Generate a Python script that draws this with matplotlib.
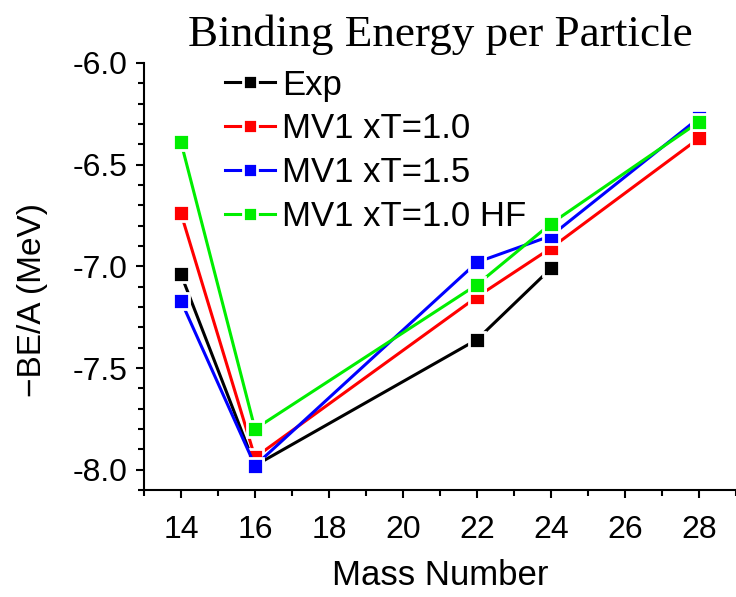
import matplotlib
matplotlib.use('Agg')
import matplotlib.pyplot as plt
from matplotlib.ticker import MultipleLocator, FormatStrFormatter

plt.rcParams['font.family'] = ['Liberation Sans', 'DejaVu Sans']

# Data
mass_exp = [14, 16, 22, 24]
be_exp = [-7.04, -7.98, -7.36, -7.01]

mass_mv1 = [14, 16, 22, 24, 28]
be_xt10 = [-6.74, -7.94, -7.15, -6.91, -6.37]
be_xt15 = [-7.17, -7.98, -6.98, -6.85, -6.27]
be_xt10_hf = [-6.39, -7.80, -7.09, -6.79, -6.29]

labels = ['Exp', 'MV1 xT=1.0', 'MV1 xT=1.5', 'MV1 xT=1.0 HF']
colors = ['black', '#ff0000', '#0000ff', '#00ee00']

fig = plt.figure(figsize=(7.36, 5.97), dpi=100)
ax = fig.add_axes([144 / 736, 1 - 490 / 597, 1 - 144 / 736, (490 - 63) / 597])

series = [(mass_exp, be_exp), (mass_mv1, be_xt10), (mass_mv1, be_xt15), (mass_mv1, be_xt10_hf)]
for (x, y), lab, col in zip(series, labels, colors):
    ax.plot(x, y, color=col, lw=2.2, marker='s', ms=12, mfc=col,
            mec='white', mew=2, label=lab)

ax.set_xlim(13, 29)
ax.set_ylim(-8.1, -6.0)
ax.xaxis.set_major_locator(MultipleLocator(2))
ax.xaxis.set_minor_locator(MultipleLocator(1))
ax.yaxis.set_major_locator(MultipleLocator(0.5))
ax.yaxis.set_minor_locator(MultipleLocator(0.1))
ax.set_xticks(range(14, 29, 2))
ax.yaxis.set_major_formatter(FormatStrFormatter('%.1f'))

for s in ['top', 'right']:
    ax.spines[s].set_visible(False)
for s in ['left', 'bottom']:
    ax.spines[s].set_linewidth(1.5)

ax.tick_params(which='major', direction='out', length=6, width=1.5, labelsize=23)
ax.tick_params(which='minor', direction='out', length=4, width=1.5)
ax.tick_params(axis='x', pad=12)
ax.tick_params(axis='y', pad=6)

ax.set_xlabel('Mass Number', fontsize=25, labelpad=10)
ax.set_ylabel('\u2212BE/A (MeV)', fontsize=24)
ax.yaxis.set_label_coords(-0.162, 0.445)
ax.set_title('Binding Energy per Particle', fontsize=32.5, family='Liberation Serif', pad=12)

ax.legend(loc='upper left', bbox_to_anchor=(0.137, 0.987), frameon=False, fontsize=25,
          handlelength=1.45, handletextpad=0.2, labelspacing=0.31, borderaxespad=0,
          borderpad=0, markerscale=0.85)

fig.savefig('out.png', dpi=100)
